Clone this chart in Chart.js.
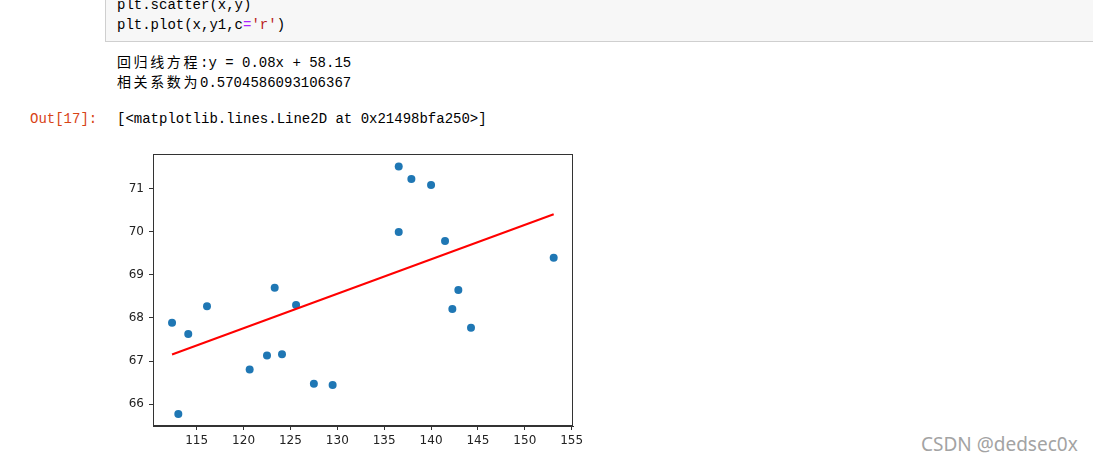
<!DOCTYPE html>
<html>
<head>
<meta charset="utf-8">
<script src="https://cdn.jsdelivr.net/npm/chart.js@4/dist/chart.umd.min.js"></script>
<style>
  body { margin: 0; width: 1093px; height: 461px; background: #fff; position: relative; overflow: hidden; }
  .mono { font-family: "Liberation Mono", "Noto Sans CJK SC", monospace; font-size: 14px; line-height: 20px; color: #000; position: absolute; white-space: pre; }
  .cjk { font-family: "Noto Sans CJK SC"; letter-spacing: 2.6px; }
  #cell { position: absolute; left: 105px; top: -10px; width: 990px; height: 50px; background: #f7f7f7; border: 1px solid #cfcfcf; }
  #chart { position: absolute; left: 100px; top: 140px; }
  #mark { position: absolute; left: 921px; top: 431px; font-family: "Noto Sans"; font-size: 19px; color: #a3a3a3; }
</style>
</head>
<body>
<div id="cell"></div>
<div class="mono" style="left:117px; top:-5px;">plt.scatter(x,y)</div>
<div class="mono" style="left:117px; top:15px;">plt.plot(x,y1,c<span style="color:#aa22ff">=</span><span style="color:#ba2121">'r'</span>)</div>
<div class="mono" style="left:117px; top:51px;"><span class="cjk">回归线方程</span>:y = 0.08x + 58.15</div>
<div class="mono" style="left:117px; top:71px;"><span class="cjk">相关系数为</span>0.5704586093106367</div>
<div class="mono" style="left:30px; top:109px; color:#d84315;">Out[17]:</div>
<div class="mono" style="left:117px; top:109px;">[&lt;matplotlib.lines.Line2D at 0x21498bfa250&gt;]</div>
<canvas id="chart" width="500" height="321"></canvas>
<div id="mark">CSDN @dedsec0x</div>
<script>
// scatter points
const xs = [112.37, 113.04, 114.1, 116.1, 120.65, 122.5, 123.32, 124.1, 125.6, 127.5, 129.5,
            136.55, 136.55, 137.9, 140.0, 141.49, 142.27, 142.91, 144.26, 153.08];
const ys = [67.89, 65.77, 67.63, 68.27, 66.80, 67.13, 68.70, 67.16, 68.30, 66.47, 66.44,
            71.52, 70.00, 71.23, 71.09, 69.79, 68.21, 68.65, 67.77, 69.40];
// regression line end points
const lineX = [112.37, 153.08];
const lineY = [67.15, 70.41];
const xTicks = [115, 120, 125, 130, 135, 140, 145, 150, 155];
const yTicks = [66, 67, 68, 69, 70, 71];

const boxPlugin = {
    id: 'axesBox',
    afterDraw: (chart) => {
        const {ctx, chartArea} = chart;
        ctx.save();
        ctx.strokeStyle = '#333';
        ctx.lineWidth = 1;
        ctx.strokeRect(chartArea.left + 0.5, chartArea.top + 0.5,
            chartArea.right - chartArea.left - 1, chartArea.bottom - chartArea.top - 1);
        ctx.restore();
    }
};

const tickFont = {family: 'DejaVu Sans', size: 12};

new Chart(document.getElementById('chart'), {
    type: 'scatter',
    data: {
        datasets: [{
            type: 'line',
            data: lineX.map((x, i) => ({x, y: lineY[i]})),
            borderColor: '#ff0000',
            borderWidth: 2,
            pointRadius: 0,
            fill: false,
            order: 0
        }, {
            data: xs.map((x, i) => ({x, y: ys[i]})),
            backgroundColor: '#1f77b4',
            borderColor: '#1f77b4',
            borderWidth: 0,
            pointRadius: 4,
            order: 1
        }]
    },
    options: {
        responsive: false,
        animation: false,
        devicePixelRatio: 1,
        layout: {padding: {left: 0, top: 14, right: 27, bottom: 0}},
        plugins: {legend: {display: false}, tooltip: {enabled: false}},
        scales: {
            x: {
                type: 'linear',
                min: 110.34,
                max: 155.14,
                afterBuildTicks: (s) => { s.ticks = xTicks.map(v => ({value: v})); },
                afterFit: (s) => { s.height = 35; },
                grid: {display: true, drawOnChartArea: false, drawTicks: true, tickLength: 4, color: '#333'},
                border: {display: true, color: '#333'},
                ticks: {font: tickFont, color: '#222', padding: 4, maxRotation: 0}
            },
            y: {
                type: 'linear',
                min: 65.49,
                max: 71.81,
                afterBuildTicks: (s) => { s.ticks = yTicks.map(v => ({value: v})); },
                afterFit: (s) => { s.width = 53; },
                grid: {display: true, drawOnChartArea: false, drawTicks: true, tickLength: 4, color: '#333'},
                border: {display: true, color: '#333'},
                ticks: {font: tickFont, color: '#222', padding: 5}
            }
        }
    },
    plugins: [boxPlugin]
});
</script>
</body>
</html>
